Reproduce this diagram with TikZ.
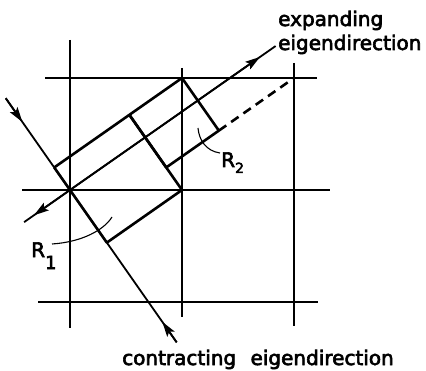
\documentclass[tikz,border=0pt]{standalone}
\usepackage{fontspec}
\newfontfamily\lab{DejaVu Sans}[FakeBold=3]
\usetikzlibrary{calc,arrows.meta}
\begin{document}
\begin{tikzpicture}[x=1pt,y=1pt,
  gridline/.style={line width=1.8pt},
  rectline/.style={line width=2.6pt, line join=round},
  eigenline/.style={line width=1.8pt},
  arr/.style={line width=1.8pt, -{Stealth[length=15pt,width=9pt,inset=3pt]}},
  leader/.style={line width=1.1pt},
  txt/.style={inner sep=0pt, anchor=base west, font=\lab\fontsize{20}{24}\selectfont}]
\useasboundingbox (0,0) rectangle (426,370);
% grid points
\coordinate (P) at (70,180);
\coordinate (g10) at (182,180);
\coordinate (g11) at (182,292);
\coordinate (g21) at (294,292);
% grid line ends
\coordinate (v1t) at (70,330);  \coordinate (v1b) at (70,42);
\coordinate (v2t) at (182,302); \coordinate (v2b) at (182,53);
\coordinate (v3t) at (294,307); \coordinate (v3b) at (294,44);
\coordinate (h1l) at (45,292);  \coordinate (h1r) at (317,292);
\coordinate (h2l) at (22,180);  \coordinate (h2r) at (330,180);
\coordinate (h3l) at (38,68);   \coordinate (h3r) at (318,68);
\draw[gridline] (v1t) -- (v1b);
\draw[gridline] (v2t) -- (v2b);
\draw[gridline] (v3t) -- (v3b);
\draw[gridline] (h1l) -- (h1r);
\draw[gridline] (h2l) -- (h2r);
\draw[gridline] (h3l) -- (h3r);
% directions
\coordinate (Sd) at ($(P)+(-55:20)$);
\coordinate (U11) at ($(g11)+(35:20)$);
\coordinate (U21) at ($(g21)+(35:20)$);
% rectangle corners
\coordinate (a) at ($(P)!(g11)!(Sd)$);
\coordinate (b) at ($(g11)!(g10)!(U11)$);
\coordinate (d) at ($(P)!(g10)!(Sd)$);
\coordinate (e) at ($(g21)!(g11)!(U21)$);
\coordinate (f) at ($(g21)!(g10)!(U21)$);
% eigen lines
\coordinate (ss) at ($(P)+(125:112)$);
\coordinate (se) at ($(P)+(-55:186)$);
\coordinate (st1) at ($(P)+(125:83)$);
\coordinate (st2) at ($(P)+(-55:161)$);
\coordinate (us) at ($(P)+(215:56)$);
\coordinate (ue) at ($(P)+(35:251)$);
\coordinate (ut1) at ($(P)+(215:44)$);
\coordinate (ut2) at ($(P)+(35:232)$);
\draw[eigenline] (ss) -- (se);
\draw[eigenline] (us) -- (ue);
\draw[arr] (ss) -- (st1);
\draw[arr] (se) -- (st2);
\draw[arr] (P) -- (ut1);
\draw[arr] (P) -- (ut2);
% rectangles
\draw[rectline] (a) -- (g11) -- (e) -- (f) -- (b);
\draw[rectline] (a) -- (d) -- (g10) -- (b);
\draw[rectline, dash pattern=on 9pt off 6pt] (e) -- (g21);
% labels
\node[txt] (R1) at (31,113) {R\raisebox{-12pt}{\fontsize{18}{18}\selectfont 1}};
\node[txt] (R2) at (221,203) {R\raisebox{-6pt}{\fontsize{14}{14}\selectfont 2}};
\coordinate (l1a) at (52,126);
\coordinate (l1b) at (112,153);
\coordinate (l2a) at (220,217);
\coordinate (l2b) at (198,242);
\draw[leader] (l1a) .. controls (82,128) and (104,140) .. (l1b);
\draw[leader] (l2a) .. controls (206,219) and (199,230) .. (l2b);
\node[txt] (exp) at (278,344) {expanding};
\node[txt] (eig) at (278,320) {eigendirection};
\node[txt] (con) at (122,5) {contracting\hspace{0.4em} eigendirection};
\end{tikzpicture}
\end{document}
